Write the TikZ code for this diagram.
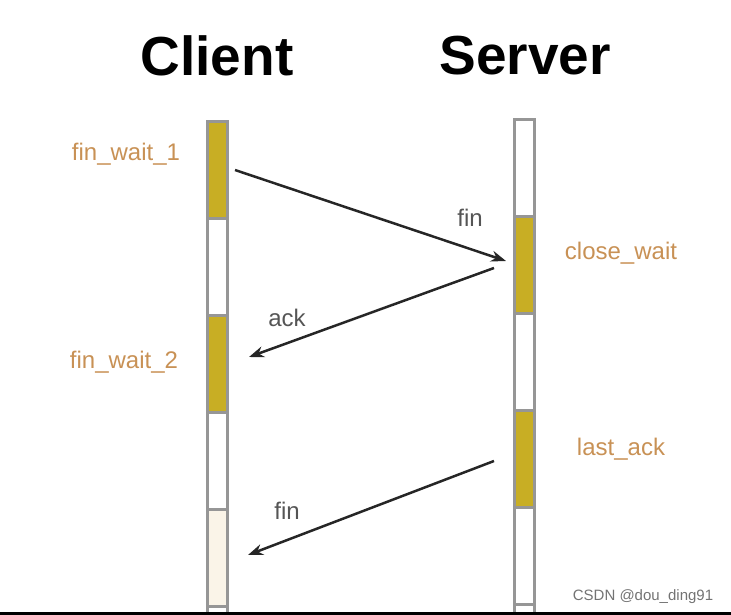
\documentclass[tikz,border=0pt]{standalone}
\usepackage{fontspec}
\setmainfont{Liberation Sans}
\usetikzlibrary{arrows.meta, positioning, calc}
\definecolor{barline}{RGB}{150,150,150}
\definecolor{stategold}{RGB}{200,174,36}
\definecolor{statecream}{RGB}{250,244,232}
\definecolor{statetext}{RGB}{200,145,85}
\definecolor{msgtext}{RGB}{85,85,85}

\begin{document}
\begin{tikzpicture}[x=1pt, y=-1pt,
  every node/.style={font=\fontsize{24}{28}\selectfont},
  title/.style={font=\fontsize{55}{60}\selectfont\bfseries},
  seg/.style={rectangle, draw=barline, line width=3pt, inner sep=0pt,
              minimum width=20pt, minimum height=97pt, anchor=north},
  state/.style={text=statetext},
  msg/.style={text=msgtext},
  arrow/.style={-{Stealth[length=15pt, width=11pt]}, line width=2.5pt, black!85}
]
  \useasboundingbox (0,0) rectangle (731,615);

  \node[title] (client) at (217,56) {Client};
  \node[title] (server) at (525,56) {Server};

  % life lines, one segment per state
  \foreach \i/\fillc in {1/stategold, 2/white, 3/stategold, 4/white, 5/statecream, 6/white}{
    \node[seg, fill=\fillc] (cl\i) at (217, {120+97*(\i-1)}) {};
  }
  \foreach \i/\fillc in {1/white, 2/stategold, 3/white, 4/stategold, 5/white, 6/white}{
    \node[seg, fill=\fillc] (sv\i) at (524.5, {118+97*(\i-1)}) {};
  }

  \node[state] (finwaitA) at (126,154) {fin\_wait\_1};
  \node[state] (finwaitB) at (124,362) {fin\_wait\_2};
  \node[state] (closewait) at (621,253) {close\_wait};
  \node[state] (lastack) at (621,449) {last\_ack};

  \coordinate (finAs) at (235,170);
  \coordinate (finAe) at (506,261);
  \coordinate (ackS) at (494,268);
  \coordinate (ackE) at (249,357);
  \coordinate (finBs) at (494,461);
  \coordinate (finBe) at (248,555);

  \draw[arrow] (finAs) -- (finAe);
  \draw[arrow] (ackS) -- (ackE);
  \draw[arrow] (finBs) -- (finBe);

  \node[msg] (finA) at (470,218) {fin};
  \node[msg] (ack) at (287,318) {ack};
  \node[msg] (finB) at (287,511) {fin};

  \node[text=black!55, font=\fontsize{15}{18}\selectfont] (mark) at (643,597) {CSDN @dou\_ding91};

  \fill[black] (0,612) rectangle (731,616);
\end{tikzpicture}
\end{document}
